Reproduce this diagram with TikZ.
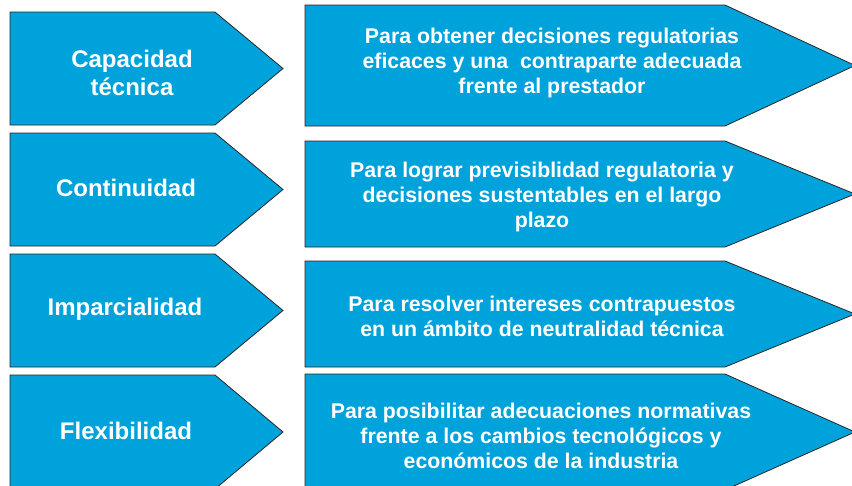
\documentclass[tikz,border=0pt]{standalone}
\usepackage{fontspec}
\setmainfont{Liberation Sans}
\usetikzlibrary{positioning}
\definecolor{celeste}{RGB}{0,162,219}
\tikzset{
    flecha/.style={draw=black!85, line width=0.8pt, fill=celeste, line join=miter},
    titulo/.style={text=white, font=\bfseries\fontsize{24}{28}\selectfont, align=center, inner sep=0pt},
    motivo/.style={text=white, font=\bfseries\fontsize{21.3}{25}\selectfont, align=center, inner sep=0pt}
}

\begin{document}
\begin{tikzpicture}[x=1pt, y=-1pt]
            \useasboundingbox (0,0) rectangle (852,485);
            \clip (0,0) rectangle (852,485);
            % left arrows
            \foreach \t/\b in {12/125, 133/246, 254/367, 375/489} {
                \draw[flecha] (10,\t) -- (215,\t) -- (283,{(\t+\b)/2}) -- (215,\b) -- (10,\b) -- cycle;
            }
            % right arrows
            \foreach \t/\b in {5/126, 141/247, 261/367, 374/490} {
                \draw[flecha] (305,\t) -- (725,\t) -- (855,{(\t+\b)/2}) -- (725,\b) -- (305,\b) -- cycle;
            }
            \node[titulo] (cap) at (132,73) {Capacidad\\técnica};
            \node[titulo] (cont) at (126,188) {Continuidad};
            \node[titulo] (imp) at (125,309) {Imparcialidad};
            \node[titulo] (flex) at (126,431) {Flexibilidad};
            \node[motivo] (capdesc) at (552,62.5) {Para obtener decisiones regulatorias\\eficaces y una\ \ contraparte adecuada\\frente al prestador};
            \node[motivo] (contdesc) at (542,197) {Para lograr previsiblidad regulatoria y\\decisiones sustentables en el largo\\plazo};
            \node[motivo] (impdesc) at (542,316) {Para resolver intereses contrapuestos\\en un ámbito de neutralidad técnica};
            \node[motivo] (flexdesc) at (541,435.5) {Para posibilitar adecuaciones normativas\\frente a los cambios tecnológicos y\\económicos de la industria};
        \end{tikzpicture}
\end{document}
